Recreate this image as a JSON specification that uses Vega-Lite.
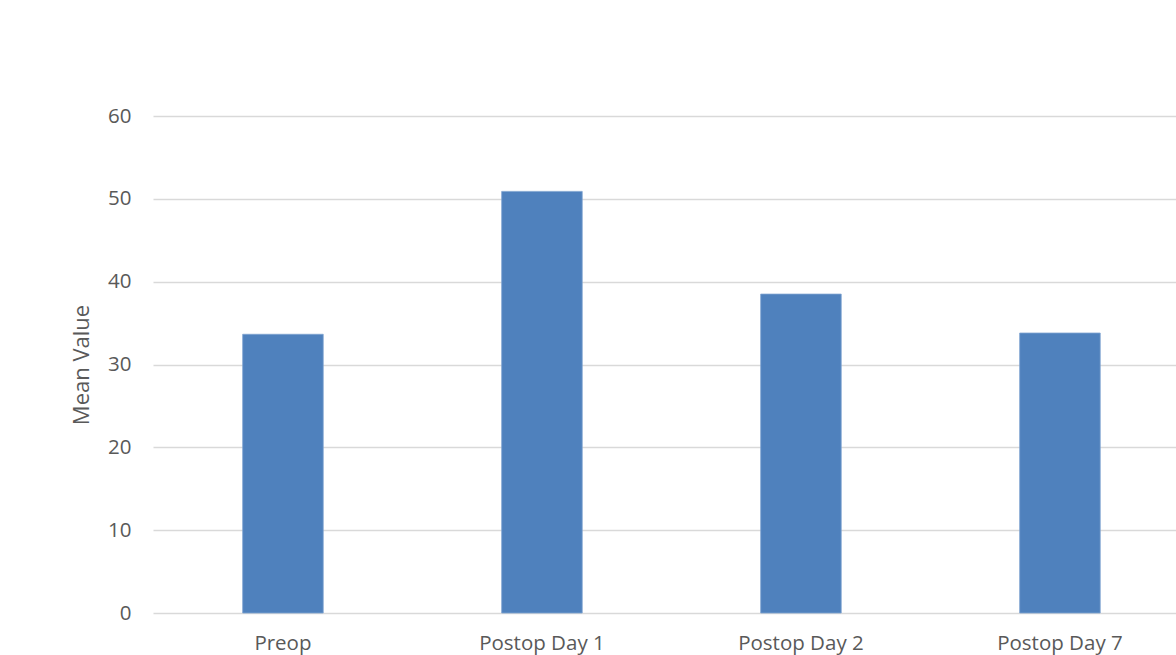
{
  "$schema": "https://vega.github.io/schema/vega-lite/v6.json",
  "autosize": {"type": "none"},
  "padding": {"left": 153, "top": 116, "right": 0, "bottom": 42},
  "width": 1023,
  "height": 497,
  "background": "white",
  "data": {"values": [
    {"stage": "Preop", "mean": 33.65},
    {"stage": "Postop Day 1", "mean": 50.9},
    {"stage": "Postop Day 2", "mean": 38.5},
    {"stage": "Postop Day 7", "mean": 33.8}
  ]},
  "mark": {"type": "bar", "color": "#4F81BD", "stroke": "#7FA3D0", "strokeWidth": 0.8},
  "encoding": {
    "x": {
      "field": "stage", "type": "nominal", "sort": null,
      "scale": {"paddingInner": 0.689, "paddingOuter": 0.3194, "align": 0.542},
      "axis": {"title": null, "labelAngle": 0, "ticks": false, "domain": false, "grid": false,
               "labelPadding": 20, "labelFontSize": 20.5, "labelColor": "#595959", "labelFont": "Open Sans"}
    },
    "y": {
      "field": "mean", "type": "quantitative",
      "scale": {"domain": [0, 60], "nice": false},
      "axis": {"title": "Mean Value", "values": [0, 10, 20, 30, 40, 50, 60], "ticks": false, "domain": false,
               "grid": true, "gridColor": "#D9D9D9", "gridWidth": 1.3,
               "labelPadding": 22, "labelFontSize": 20.5, "labelColor": "#595959", "labelFont": "Open Sans", "labelFontWeight": "normal",
               "titleFontSize": 22, "titleColor": "#595959", "titleFont": "Open Sans", "titleFontWeight": "normal", "titlePadding": 14}
    }
  },
  "config": {"view": {"stroke": null}}
}
